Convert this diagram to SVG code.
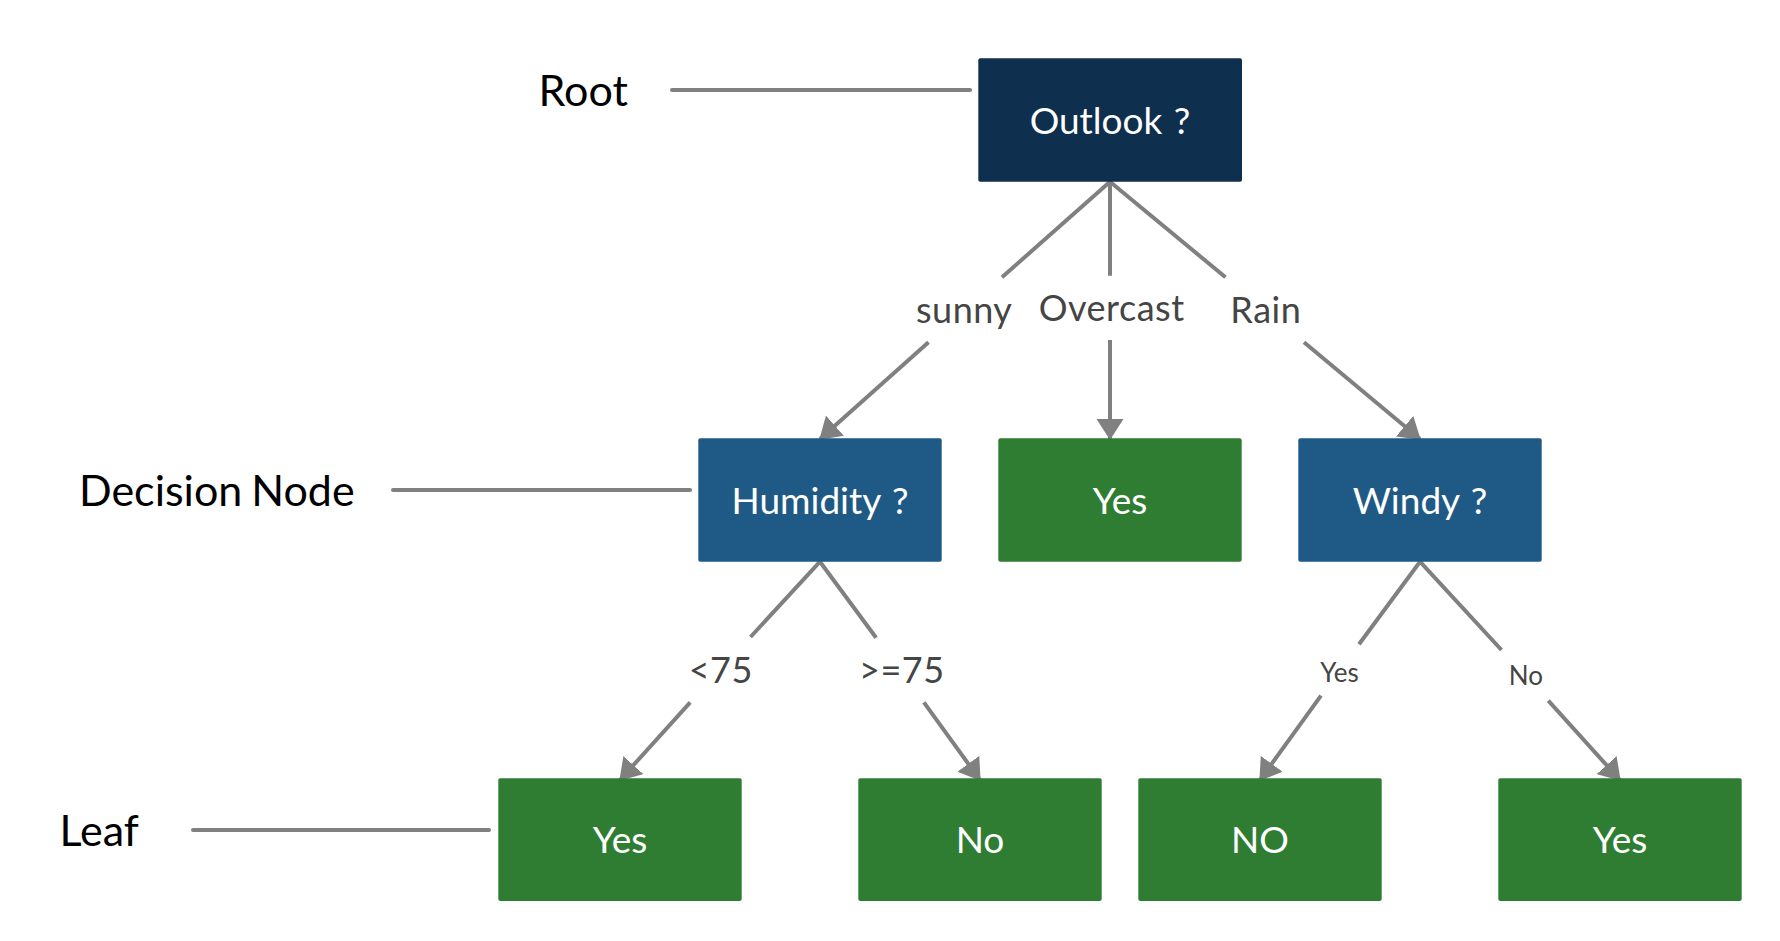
<svg xmlns="http://www.w3.org/2000/svg" width="1780" height="941" viewBox="0 0 1780 941">
  <style>
    .box-root { fill: #0f2f4e; }
    .box-dec { fill: #1f5a86; }
    .box-leaf { fill: #2e7d32; }
    .ntext { font-family: Lato, "Liberation Sans", sans-serif; font-size: 37px; fill: #ffffff; text-anchor: middle; word-spacing: 2px; }
    .elabel { font-family: Lato, "Liberation Sans", sans-serif; font-size: 36px; letter-spacing: 0.5px; fill: #454545; text-anchor: middle; }
    .slabel { font-family: Lato, "Liberation Sans", sans-serif; font-size: 26px; fill: #454545; text-anchor: middle; }
    .side { font-family: Lato, "Liberation Sans", sans-serif; font-size: 43px; fill: #000000; }
    .guide { stroke: #808080; stroke-width: 4; stroke-linecap: round; fill: none; }
    .edge { stroke: #808080; stroke-width: 4; fill: none; marker-end: url(#arrow); }
  </style>
  <defs>
    <marker id="arrow" viewBox="0 0 21 27" refX="20" refY="13.5" markerWidth="21" markerHeight="27" markerUnits="userSpaceOnUse" orient="auto">
      <path d="M0,0 L21,13.5 L0,27 z" fill="#808080"/>
    </marker>
  </defs>
  <rect width="1780" height="941" fill="#ffffff"/>

  <g id="side-labels">
    <text class="side" x="538.5" y="106">Root</text>
    <line class="guide" x1="672" y1="90" x2="970" y2="90"/>
    <text class="side" x="79" y="506" word-spacing="-2">Decision Node</text>
    <line class="guide" x1="393" y1="490" x2="690" y2="490"/>
    <text class="side" x="59.5" y="845.7">Leaf</text>
    <line class="guide" x1="193" y1="830" x2="489" y2="830"/>
  </g>

  <g id="connectors">
    <path class="edge" d="M1110,181.7 L1002,277.3 M928.5,342.3 L820,439"/>
    <path class="edge" d="M1110,181.7 L1110,275.7 M1110,340 L1110,439"/>
    <path class="edge" d="M1110,181.7 L1225.5,277.3 M1304,342.3 L1420,439"/>
    <path class="edge" d="M820,561.7 L750.5,637 M690.2,702.3 L620,780"/>
    <path class="edge" d="M820,561.7 L876.1,637.7 M923.9,702.3 L980,780"/>
    <path class="edge" d="M1420,561.7 L1359,644.3 M1321,695.7 L1260,780"/>
    <path class="edge" d="M1420,561.7 L1501.5,650 M1548.3,700.7 L1620,780"/>
    <text class="elabel" x="964.2" y="323.3">sunny</text>
    <text class="elabel" x="1111.7" y="321">Overcast</text>
    <text class="elabel" x="1265.8" y="323.3">Rain</text>
    <text class="elabel" x="720.7" y="683.3">&lt;75</text>
    <text class="elabel" x="901.8" y="683.3">&gt;=75</text>
    <text class="slabel" x="1339.5" y="681.7">Yes</text>
    <text class="slabel" x="1525.8" y="685">No</text>
  </g>

  <g id="node-outlook">
    <rect class="box-root" x="978.3" y="58.3" width="263.7" height="123.4" rx="2"/>
    <text class="ntext" x="1110" y="134">Outlook ?</text>
  </g>
  <g id="node-humidity">
    <rect class="box-dec" x="698.3" y="438.3" width="243.4" height="123.4" rx="2"/>
    <text class="ntext" x="820" y="513.5">Humidity ?</text>
  </g>
  <g id="node-overcast-yes">
    <rect class="box-leaf" x="998.3" y="438.3" width="243.4" height="123.4" rx="2"/>
    <text class="ntext" x="1120" y="513.5">Yes</text>
  </g>
  <g id="node-windy">
    <rect class="box-dec" x="1298.3" y="438.3" width="243.4" height="123.4" rx="2"/>
    <text class="ntext" x="1420" y="513.5">Windy ?</text>
  </g>
  <g id="leaf-yes-1">
    <rect class="box-leaf" x="498.3" y="778.3" width="243.4" height="122.7" rx="2"/>
    <text class="ntext" x="620" y="852.7">Yes</text>
  </g>
  <g id="leaf-no-1">
    <rect class="box-leaf" x="858.3" y="778.3" width="243.4" height="122.7" rx="2"/>
    <text class="ntext" x="980" y="852.7">No</text>
  </g>
  <g id="leaf-no-2">
    <rect class="box-leaf" x="1138.3" y="778.3" width="243.4" height="122.7" rx="2"/>
    <text class="ntext" x="1260" y="852.7">NO</text>
  </g>
  <g id="leaf-yes-2">
    <rect class="box-leaf" x="1498.3" y="778.3" width="243.4" height="122.7" rx="2"/>
    <text class="ntext" x="1620" y="852.7">Yes</text>
  </g>
</svg>
